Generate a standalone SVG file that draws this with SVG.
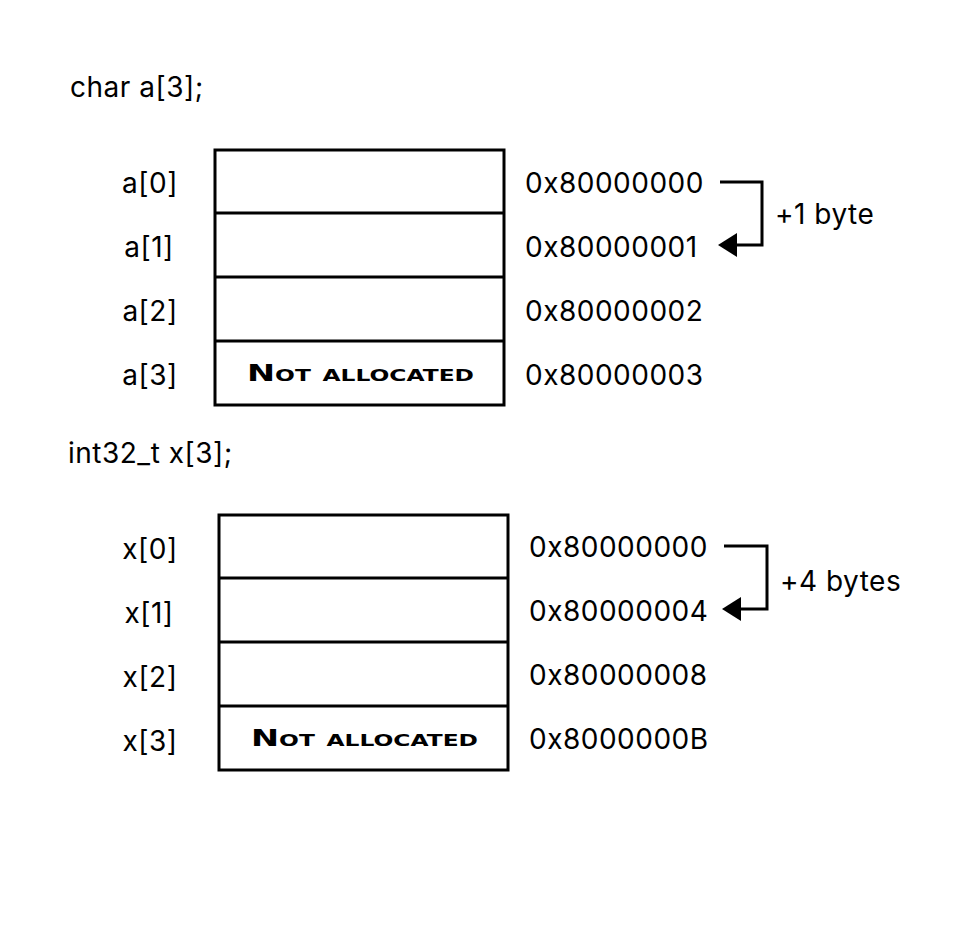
<svg xmlns="http://www.w3.org/2000/svg" width="970" height="925" viewBox="0 0 970 925">
<style>
.t{font-family:Inter,"DejaVu Sans",sans-serif;font-size:28px;letter-spacing:0.5px;fill:#000}
.m{text-anchor:middle}
.na{font-family:"DejaVu Sans","Liberation Sans",sans-serif;font-weight:bold;font-variant:small-caps;font-size:23px;text-anchor:start;fill:#000}
.box{fill:#fff;stroke:#000;stroke-width:3}
.ln{fill:none;stroke:#000;stroke-width:3}
</style>
<rect width="970" height="925" fill="#fff"/>
<text class="t" x="70" y="97">char a[3];</text>
<text class="t" x="68" y="463">int32_t x[3];</text>
<g id="char-array">
<rect class="box" x="215" y="150" width="289" height="255"/>
<line class="ln" x1="215" y1="213" x2="504" y2="213"/>
<line class="ln" x1="215" y1="277" x2="504" y2="277"/>
<line class="ln" x1="215" y1="341" x2="504" y2="341"/>
<text class="na" x="247" y="381" textLength="227" lengthAdjust="spacingAndGlyphs">Not allocated</text>
<text class="t m" x="150" y="193">a[0]</text>
<text class="t m" x="149" y="257">a[1]</text>
<text class="t m" x="150" y="321">a[2]</text>
<text class="t m" x="150" y="385">a[3]</text>
<text class="t" x="525" y="193">0x80000000</text>
<text class="t" x="525" y="257">0x80000001</text>
<text class="t" x="525" y="321">0x80000002</text>
<text class="t" x="525" y="385">0x80000003</text>
</g>
<g id="int-array">
<rect class="box" x="219" y="515" width="289" height="255"/>
<line class="ln" x1="219" y1="578" x2="508" y2="578"/>
<line class="ln" x1="219" y1="642" x2="508" y2="642"/>
<line class="ln" x1="219" y1="706" x2="508" y2="706"/>
<text class="na" x="251" y="746" textLength="227" lengthAdjust="spacingAndGlyphs">Not allocated</text>
<text class="t m" x="150" y="559">x[0]</text>
<text class="t m" x="149" y="623">x[1]</text>
<text class="t m" x="150" y="687">x[2]</text>
<text class="t m" x="150" y="751">x[3]</text>
<text class="t" x="529" y="557">0x80000000</text>
<text class="t" x="529" y="621">0x80000004</text>
<text class="t" x="529" y="685">0x80000008</text>
<text class="t" x="529" y="749">0x8000000B</text>
</g>
<g id="connectors">
<path class="ln" d="M720,182 H762 V245 H736"/>
<path d="M718,245 L737,233 L737,257 z" fill="#000"/>
<text class="t" x="775" y="224">+1 byte</text>
<path class="ln" d="M724,546 H767 V609 H740"/>
<path d="M722,609 L741,597 L741,621 z" fill="#000"/>
<text class="t" x="780" y="591">+4 bytes</text>
</g>
</svg>
